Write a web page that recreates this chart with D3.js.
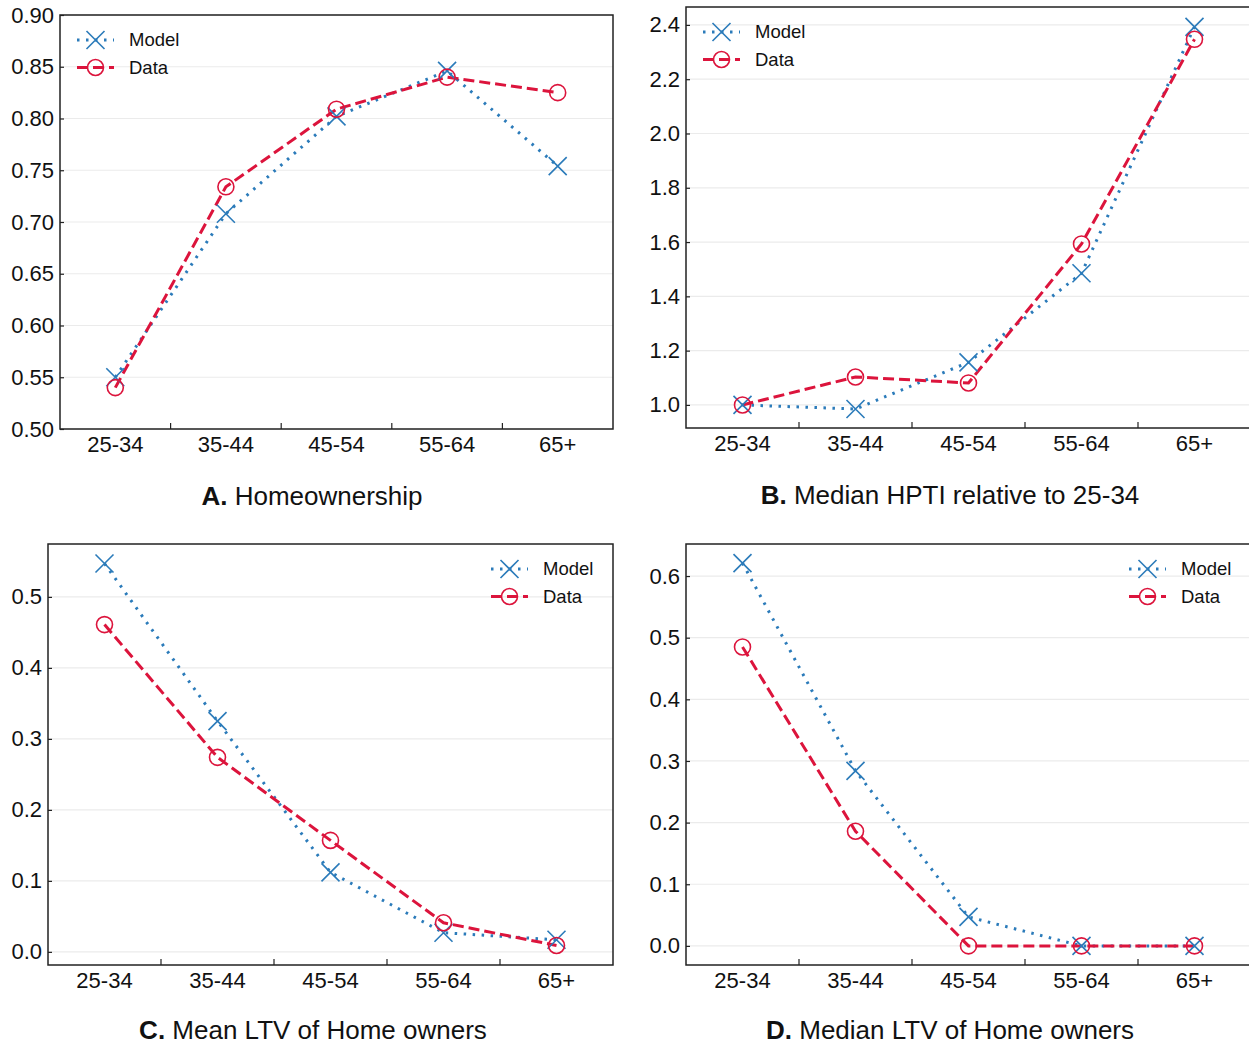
<!DOCTYPE html>
<html>
<head>
<meta charset="utf-8">
<script src="https://cdn.jsdelivr.net/npm/d3@7"></script>
<style>
  body { margin: 0; background: #fff; }
  text { font-family: "Liberation Sans", Arial, sans-serif; }
</style>
</head>
<body>
<svg id="canvas" width="1249" height="1046"></svg>
<script>
let ageGroups = ['25-34', '35-44', '45-54', '55-64', '65+']

// A. Homeownership
let ownModel = [0.550, 0.708, 0.802, 0.846, 0.754]
let ownData = [0.540, 0.734, 0.809, 0.840, 0.825]
let ownTicks = [0.50, 0.55, 0.60, 0.65, 0.70, 0.75, 0.80, 0.85, 0.90]

// B. Median HPTI relative to 25-34
let hptiModel = [1.000, 0.985, 1.157, 1.485, 2.393]
let hptiData = [1.000, 1.103, 1.081, 1.593, 2.347]
let hptiTicks = [1.0, 1.2, 1.4, 1.6, 1.8, 2.0, 2.2, 2.4]

// C. Mean LTV of home owners
let meanLtvModel = [0.547, 0.325, 0.112, 0.027, 0.017]
let meanLtvData = [0.461, 0.274, 0.157, 0.041, 0.009]
let meanLtvTicks = [0.0, 0.1, 0.2, 0.3, 0.4, 0.5]

// D. Median LTV of home owners
let medLtvModel = [0.621, 0.284, 0.047, 0.0, 0.0]
let medLtvData = [0.485, 0.186, 0.0, 0.0, 0.0]
let medLtvTicks = [0.0, 0.1, 0.2, 0.3, 0.4, 0.5, 0.6]

let blue = '#2b7bba'
let red = '#dc143c'

let panels = [
    {letter: 'A.', title: 'Homeownership', model: ownModel, data: ownData, ticks: ownTicks,
     domain: [0.50, 0.90], fmt: '.2f', box: [60, 15, 613, 429], legend: 'left', titleX: 312, titleGap: 76},
    {letter: 'B.', title: 'Median HPTI relative to 25-34', model: hptiModel, data: hptiData, ticks: hptiTicks,
     domain: [0.915, 2.466], fmt: '.1f', box: [686, 7, 1251, 428], legend: 'left', titleX: 950, titleGap: 76},
    {letter: 'C.', title: 'Mean LTV of Home owners', model: meanLtvModel, data: meanLtvData, ticks: meanLtvTicks,
     domain: [-0.0185, 0.5745], fmt: '.1f', box: [48, 544, 613, 965], legend: 'right', titleX: 313, titleGap: 74},
    {letter: 'D.', title: 'Median LTV of Home owners', model: medLtvModel, data: medLtvData, ticks: medLtvTicks,
     domain: [-0.031, 0.652], fmt: '.1f', box: [686, 544, 1251, 965], legend: 'right', titleX: 950, titleGap: 74}
]

let canvas = d3.select('#canvas')

let drawCross = (g, x, y, color) => {
    let s = 9
    g.append('path')
        .attr('d', `M${x - s},${y - s}L${x + s},${y + s}M${x - s},${y + s}L${x + s},${y - s}`)
        .attr('stroke', color)
        .attr('stroke-width', 1.6)
        .attr('fill', 'none')
}

let drawCircle = (g, x, y, color) => {
    g.append('circle')
        .attr('cx', x).attr('cy', y).attr('r', 8)
        .attr('stroke', color)
        .attr('stroke-width', 1.6)
        .attr('fill', 'none')
}

let drawPanel = (p) => {
    let [x0, y0, x1, y1] = p.box
    let g = canvas.append('g')

    let x = d3.scaleBand().domain(ageGroups).range([x0, x1])
    let y = d3.scaleLinear().domain(p.domain).range([y1, y0])
    let cx = (d) => x(d) + x.bandwidth() / 2

    // grid
    g.selectAll('.grid')
        .data(p.ticks)
        .enter()
        .append('line')
        .attr('x1', x0).attr('x2', x1)
        .attr('y1', (d) => y(d)).attr('y2', (d) => y(d))
        .attr('stroke', '#ebebeb')
        .attr('stroke-width', 1.2)

    // y axis, ticks pointing inward
    let yAxis = g.append('g')
        .attr('transform', `translate(${x0},0)`)
        .call(d3.axisLeft(y).tickValues(p.ticks).tickFormat(d3.format(p.fmt)).tickSizeInner(-4).tickSizeOuter(0).tickPadding(6))
    yAxis.select('.domain').remove()
    yAxis.selectAll('.tick line').attr('stroke', '#222').attr('stroke-width', 1.2)
    yAxis.selectAll('.tick text').attr('font-size', 22).attr('fill', '#111')
        .attr('font-family', '"Liberation Sans", Arial, sans-serif')

    // x axis: labels at centres, ticks at category boundaries
    let xAxis = g.append('g')
        .attr('transform', `translate(0,${y1})`)
        .call(d3.axisBottom(x).tickSize(0).tickPadding(7))
    xAxis.select('.domain').remove()
    xAxis.selectAll('.tick text').attr('font-size', 22).attr('fill', '#111')
        .attr('font-family', '"Liberation Sans", Arial, sans-serif')
    g.selectAll('.xb')
        .data(ageGroups.slice(1))
        .enter()
        .append('line')
        .attr('x1', (d) => x(d)).attr('x2', (d) => x(d))
        .attr('y1', y1).attr('y2', y1 - 6)
        .attr('stroke', '#222')
        .attr('stroke-width', 1.2)

    // frame
    g.append('rect')
        .attr('x', x0).attr('y', y0)
        .attr('width', x1 - x0).attr('height', y1 - y0)
        .attr('fill', 'none')
        .attr('stroke', '#222')
        .attr('stroke-width', 1.5)

    let line = d3.line().x((d, i) => cx(ageGroups[i])).y((d) => y(d))

    g.append('path')
        .attr('d', line(p.model))
        .attr('fill', 'none')
        .attr('stroke', blue)
        .attr('stroke-width', 3)
        .attr('stroke-dasharray', '2.5,6.5')
        .attr('stroke-linecap', 'butt')
    g.append('path')
        .attr('d', line(p.data))
        .attr('fill', 'none')
        .attr('stroke', red)
        .attr('stroke-width', 3)
        .attr('stroke-dasharray', '11,5')

    p.model.forEach((v, i) => drawCross(g, cx(ageGroups[i]), y(v), blue))
    p.data.forEach((v, i) => drawCircle(g, cx(ageGroups[i]), y(v), red))

    // legend
    let lx = p.legend === 'left' ? x0 + 17 : x1 - 122
    let ly = y0 + 25
    let series = [
        {name: 'Model', color: blue, dash: '2.5,6.5', mark: drawCross},
        {name: 'Data', color: red, dash: '11,5', mark: drawCircle}
    ]
    series.forEach((s, i) => {
        let yy = ly + i * 27.5
        g.append('line')
            .attr('x1', lx).attr('x2', lx + 37)
            .attr('y1', yy).attr('y2', yy)
            .attr('stroke', s.color)
            .attr('stroke-width', 3)
            .attr('stroke-dasharray', s.dash)
        s.mark(g, lx + 18.5, yy, s.color)
        g.append('text')
            .attr('x', lx + 52).attr('y', yy)
            .attr('dy', '0.35em')
            .attr('font-size', 18.5)
            .attr('fill', '#111')
            .text(s.name)
    })

    // title
    let t = g.append('text')
        .attr('x', p.titleX)
        .attr('y', y1 + p.titleGap)
        .attr('text-anchor', 'middle')
        .attr('font-size', 26)
        .attr('fill', '#111')
    t.append('tspan').attr('font-weight', 'bold').text(p.letter)
    t.append('tspan').text(' ' + p.title)
}

panels.forEach(drawPanel)
</script>
</body>
</html>
